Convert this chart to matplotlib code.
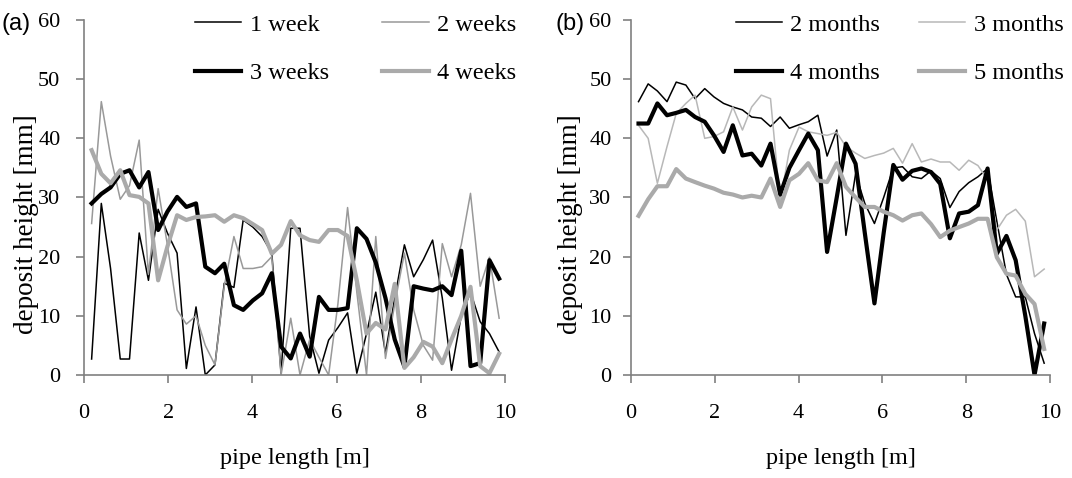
import matplotlib
matplotlib.use("Agg")
import matplotlib.pyplot as plt

plt.rcParams['font.family'] = ['Liberation Serif', 'DejaVu Serif']

# sampling positions along the pipe [m]
x = [0.18, 0.41, 0.63, 0.86, 1.08, 1.31, 1.53, 1.76, 1.98, 2.21, 2.43,
     2.66, 2.88, 3.11, 3.33, 3.56, 3.78, 4.01, 4.23, 4.46, 4.68, 4.91,
     5.13, 5.36, 5.58, 5.81, 6.03, 6.26, 6.48, 6.71, 6.93, 7.16, 7.38,
     7.61, 7.83, 8.06, 8.28, 8.51, 8.73, 8.96, 9.18, 9.41, 9.63, 9.86]

# deposit heights [mm], weeks
week1 = [2.7, 29, 18, 2.7, 2.7, 24, 16, 28, 24, 20.6, 1.1,
         11.5, 0, 1.7, 15.5, 14.8, 26.2, 25, 23.4, 20.6, 0.3, 24.8,
         24.8, 6.5, 0.3, 5.9, 8, 10.5, 0.3, 7, 14, 3.7, 13,
         22, 16.6, 19.5, 22.8, 13, 0.8, 10, 14, 9, 7, 3.9]
week2 = [25.6, 46.2, 37, 29.7, 32, 39.7, 17, 31.5, 22, 11, 8.6,
         10, 5, 1.7, 15, 23.4, 18, 18, 18.3, 20, 0, 9.6,
         0, 6, 3, 0, 12, 28.3, 14, 0, 23.4, 2.8, 12,
         20.6, 11, 5, 2.5, 22.2, 16.6, 22, 30.7, 15, 19.9, 9.6]
week3 = [29, 30.6, 31.7, 34, 34.6, 31.7, 34.3, 24.5, 27.6, 30.1, 28.4,
         29, 18.3, 17.2, 18.8, 11.8, 11, 12.6, 13.8, 17.2, 4.8, 2.8,
         7, 3.1, 13.2, 11, 11, 11.3, 24.8, 23, 19, 13, 6,
         1.4, 15, 14.6, 14.3, 15, 13.5, 21, 1.5, 2, 19.4, 16.3]
week4 = [38, 34, 32.4, 34.6, 30.4, 30.1, 29, 16, 21.7, 27, 26.2,
         26.7, 26.8, 27, 25.9, 27, 26.5, 25.5, 24.5, 20.5, 22, 26,
         23.6, 22.8, 22.5, 24.5, 24.5, 23.5, 16, 7, 8.8, 7.7, 15.4,
         1.2, 3, 5.6, 4.8, 2, 6, 10, 14.9, 1.5, 0.3, 3.6]

# deposit heights [mm], months
month2 = [46.2, 49.2, 48, 46.2, 49.5, 49, 46.7, 48.4, 47, 45.9, 45.3,
          44.8, 43.6, 43.4, 42, 43.6, 41.7, 42.3, 42.8, 43.9, 37, 41.4,
          23.6, 34, 29, 25.6, 30, 35, 35.2, 33.5, 33.2, 34.5, 33.2,
          28.3, 31, 32.5, 33.5, 34.9, 26, 17, 13.2, 13.2, 7, 2]
month3 = [42.2, 40, 32.4, 38.6, 44.2, 45.9, 47.3, 40, 40.3, 41.1, 45.3,
          41.4, 45.3, 47.3, 46.7, 29.3, 38, 41.9, 41.1, 40.8, 40.5, 41,
          38.6, 37.5, 36.6, 37.1, 37.5, 38.3, 35.8, 39.1, 36, 36.5, 36,
          36, 34.6, 36.3, 35.4, 33, 24.5, 27, 28, 26, 16.6, 17.9]
month4 = [42.5, 42.5, 45.9, 43.9, 44.3, 44.8, 43.6, 42.8, 40.5, 37.7, 42.2,
          37.1, 37.4, 35.4, 39.1, 30.5, 35, 38, 40.8, 38, 20.8, 30,
          39.1, 35.7, 24, 12.1, 24, 35.5, 33, 34.5, 34.9, 34.3, 32.3,
          23.1, 27.3, 27.6, 28.7, 34.9, 20.5, 23.5, 19.4, 10, 0, 8.7]
month5 = [26.9, 29.7, 31.9, 31.9, 34.8, 33.2, 32.6, 32, 31.5, 30.8, 30.5,
          30, 30.3, 30, 33.2, 28.4, 32.9, 34, 35.8, 32.9, 32.6, 35.8,
          31.8, 30, 28.4, 28.4, 27.6, 27, 26.1, 27, 27.3, 25.5, 23.3,
          24.4, 25, 25.6, 26.4, 26.4, 19.9, 17.1, 16.8, 13.7, 12, 4.4]

fig = plt.figure(figsize=(10.72, 4.78), dpi=100)
ax1 = fig.add_axes([0.0784, 0.2155, 0.3927, 0.7427])
ax2 = fig.add_axes([0.5886, 0.2155, 0.3909, 0.7427])

l1, = ax1.plot(x, week1, color='black', lw=1.1)
l2, = ax1.plot(x, week2, color='#999999', lw=1.1)
l3, = ax1.plot(x, week3, color='black', lw=3.0)
l4, = ax1.plot(x, week4, color='#aaaaaa', lw=3.0)

m2, = ax2.plot(x, month2, color='black', lw=1.1)
m3, = ax2.plot(x, month3, color='#b8b8b8', lw=1.1)
m4, = ax2.plot(x, month4, color='black', lw=3.0)
m5, = ax2.plot(x, month5, color='#aaaaaa', lw=3.0)

# legend fills column-wise, so order entries to read row by row
panels = [
    (ax1, '(a)', [l1, l3, l2, l4], ['1 week', '3 weeks', '2 weeks', '4 weeks'],
     0.264, 2.2, -0.197, -0.108, 11),
    (ax2, '(b)', [m2, m4, m3, m5], ['2 months', '4 months', '3 months', '5 months'],
     0.250, 1.6, -0.181, -0.114, 8),
]

for ax, tag, handles, labels, leg_x, colsp, tag_x, ylab_x, ypad in panels:
    ax.set_xlim(0, 10)
    ax.set_ylim(0, 60)
    ax.set_xticks(range(0, 11, 2))
    ax.set_yticks(range(0, 61, 10))
    for s in ['top', 'right']:
        ax.spines[s].set_visible(False)
    for s in ['left', 'bottom']:
        ax.spines[s].set_color('#808080')
        ax.spines[s].set_linewidth(1.2)
    ax.tick_params(direction='out', length=6, width=1.2, color='#808080',
                   labelsize=16)
    ax.tick_params(axis='x', pad=15)
    ax.tick_params(axis='y', pad=ypad)
    ax.set_xlabel('pipe length [m]', fontsize=17.5, labelpad=18)
    ax.set_ylabel('deposit height [mm]', fontsize=19.5)
    ax.yaxis.set_label_coords(ylab_x, 0.425)
    ax.text(tag_x, 0.99, tag, transform=ax.transAxes, fontsize=17,
            family='Liberation Sans', va='center', ha='left')
    ax.legend(handles, labels, loc='upper left', bbox_to_anchor=(leg_x, 1.018),
              ncol=2, frameon=False, fontsize=17.5, handlelength=1.9,
              handletextpad=0.35, columnspacing=colsp, labelspacing=1.1,
              borderaxespad=0, borderpad=0)

fig.savefig('out.png', dpi=100)
